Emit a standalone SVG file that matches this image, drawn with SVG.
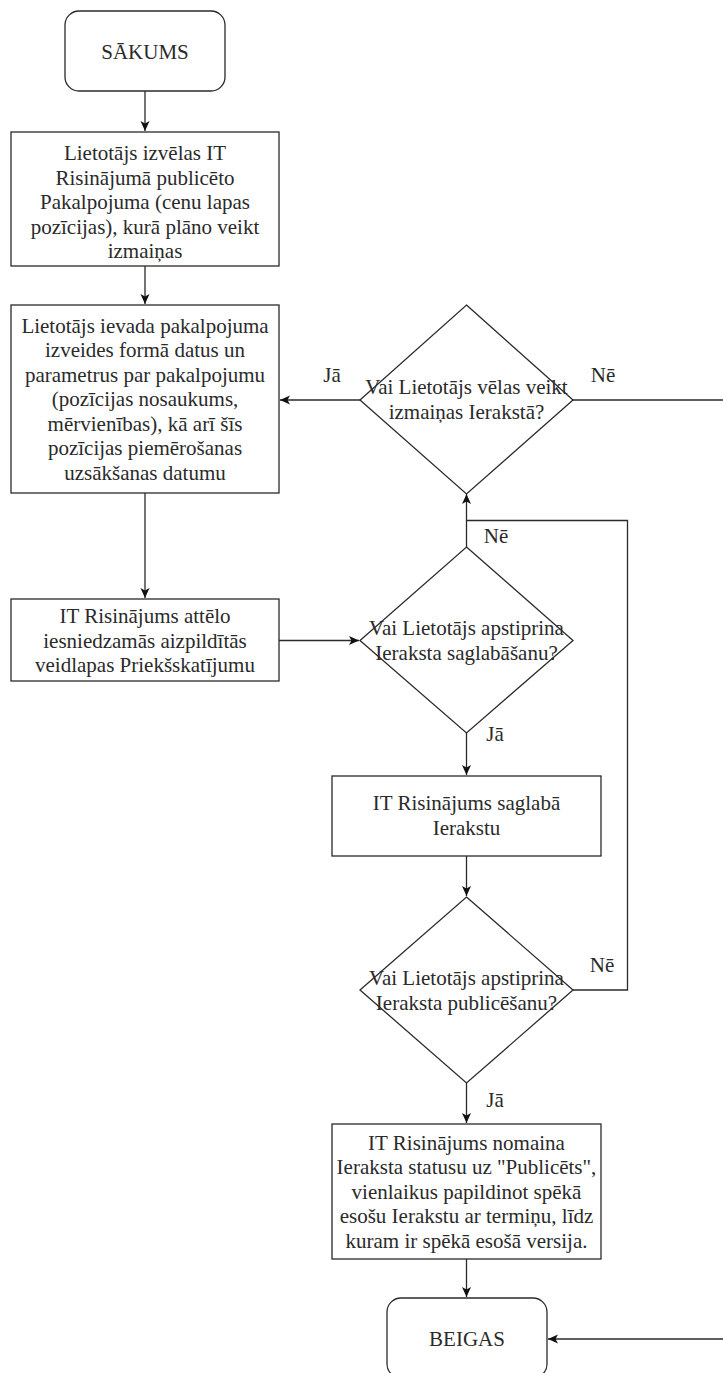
<svg xmlns="http://www.w3.org/2000/svg" width="723" height="1373" viewBox="0 0 723 1373">
<style>
.s{fill:#fff;stroke:#2a2a2a;stroke-width:1.3}
.c{fill:none;stroke:#2a2a2a;stroke-width:1.3}
text{font-family:"Liberation Serif","Times New Roman",serif;font-size:21px;fill:#2a2a2a;text-anchor:middle}
</style>
<defs>
<marker id="a" markerUnits="userSpaceOnUse" markerWidth="11" markerHeight="10" refX="10" refY="4.5" orient="auto">
<path d="M0,0 L10,4.5 L0,9 L2.5,4.5 z" fill="#111"/>
</marker>
</defs>
<g id="connectors">
<path class="c" d="M145,91 V131" marker-end="url(#a)"/>
<path class="c" d="M145,266 V304" marker-end="url(#a)"/>
<path class="c" d="M145,493 V598" marker-end="url(#a)"/>
<path class="c" d="M360,400 H280" marker-end="url(#a)"/>
<path class="c" d="M573,400 H723"/>
<path class="c" d="M279,640.5 H359" marker-end="url(#a)"/>
<path class="c" d="M466.5,547 V494" marker-end="url(#a)"/>
<path class="c" d="M573,990 H627.5 V520.5 H466.5"/>
<path class="c" d="M466.5,733 V775" marker-end="url(#a)"/>
<path class="c" d="M466.5,856 V896" marker-end="url(#a)"/>
<path class="c" d="M466.5,1083 V1123" marker-end="url(#a)"/>
<path class="c" d="M466.5,1259 V1297" marker-end="url(#a)"/>
<path class="c" d="M723,1339 H548" marker-end="url(#a)"/>
<text x="332" y="382">Jā</text>
<text x="603" y="382">Nē</text>
<text x="496" y="543">Nē</text>
<text x="495" y="741">Jā</text>
<text x="602" y="972">Nē</text>
<text x="495" y="1107">Jā</text>
</g>
<g id="start">
<rect class="s" x="65" y="11" width="160" height="80" rx="14"/>
<text x="145" y="59">SĀKUMS</text>
</g>
<g id="select">
<rect class="s" x="11" y="132" width="268" height="134"/>
<text x="145" y="160">Lietotājs izvēlas IT</text>
<text x="145" y="184.5">Risinājumā publicēto</text>
<text x="145" y="209">Pakalpojuma (cenu lapas</text>
<text x="145" y="233.5">pozīcijas), kurā plāno veikt</text>
<text x="145" y="258">izmaiņas</text>
</g>
<g id="enter">
<rect class="s" x="11" y="305" width="268" height="188"/>
<text x="145" y="332.5">Lietotājs ievada pakalpojuma</text>
<text x="145" y="357">izveides formā datus un</text>
<text x="145" y="381.5">parametrus par pakalpojumu</text>
<text x="145" y="406">(pozīcijas nosaukums,</text>
<text x="145" y="430.5">mērvienības), kā arī šīs</text>
<text x="145" y="455">pozīcijas piemērošanas</text>
<text x="145" y="479.5">uzsākšanas datumu</text>
</g>
<g id="preview">
<rect class="s" x="11" y="599" width="268" height="82"/>
<text x="145" y="623">IT Risinājums attēlo</text>
<text x="145" y="647.5">iesniedzamās aizpildītās</text>
<text x="145" y="672">veidlapas Priekšskatījumu</text>
</g>
<g id="change">
<polygon class="s" points="466.5,305 573,400 466.5,494 360,400"/>
<text x="466.5" y="394">Vai Lietotājs vēlas veikt</text>
<text x="466.5" y="418.5">izmaiņas Ierakstā?</text>
</g>
<g id="confirm-save">
<polygon class="s" points="466.5,547 573,640.5 466.5,733 360,640.5"/>
<text x="466.5" y="635">Vai Lietotājs apstiprina</text>
<text x="466.5" y="659.5">Ieraksta saglabāšanu?</text>
</g>
<g id="save">
<rect class="s" x="332" y="776" width="269" height="80"/>
<text x="466.5" y="810">IT Risinājums saglabā</text>
<text x="466.5" y="834.5">Ierakstu</text>
</g>
<g id="confirm-publish">
<polygon class="s" points="466.5,897 573,990 466.5,1083 360,990"/>
<text x="466.5" y="985">Vai Lietotājs apstiprina</text>
<text x="466.5" y="1009.5">Ieraksta publicēšanu?</text>
</g>
<g id="publish">
<rect class="s" x="332" y="1124" width="269" height="135"/>
<text x="466.5" y="1149.5">IT Risinājums nomaina</text>
<text x="466.5" y="1174">Ieraksta statusu uz "Publicēts",</text>
<text x="466.5" y="1198.5">vienlaikus papildinot spēkā</text>
<text x="466.5" y="1223">esošu Ierakstu ar termiņu, līdz</text>
<text x="466.5" y="1247.5">kuram ir spēkā esošā versija.</text>
</g>
<g id="end">
<rect class="s" x="387" y="1298" width="160" height="80" rx="14"/>
<text x="467" y="1346">BEIGAS</text>
</g>
</svg>
